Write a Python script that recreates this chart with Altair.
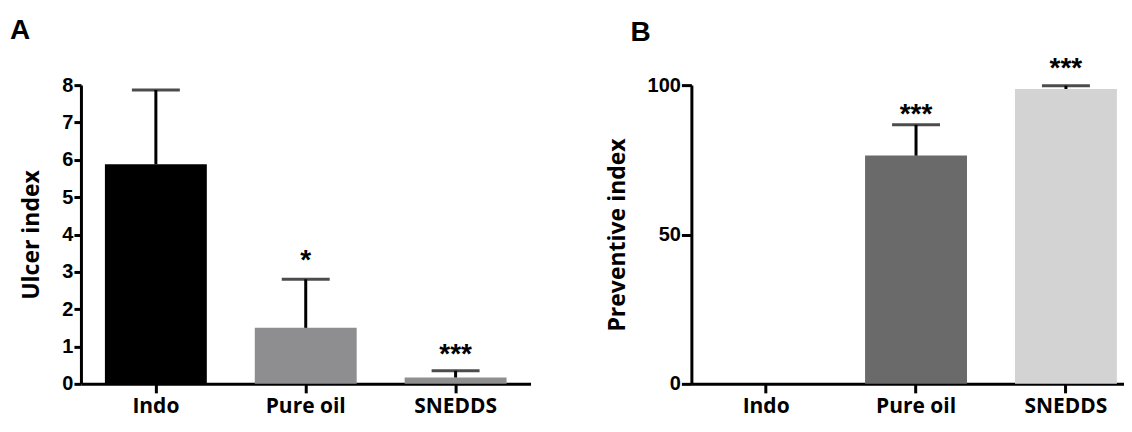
import altair as alt
import pandas as pd

categories = ["Indo", "Pure oil", "SNEDDS"]

# Panel A: ulcer index (mean bar + upper SD whisker)
ulcer_mean = [5.88, 1.50, 0.17]
ulcer_err_top = [7.87, 2.80, 0.35]
ulcer_colors = ["#000000", "#8e8e90", "#8f8f8f"]
ulcer_stars = ["", "*", "***"]
ulcer_star_y = [None, 3.47, 0.95]

# Panel B: preventive index
prev_mean = [0.0, 76.4, 98.7]
prev_err_top = [None, 86.7, 99.8]
prev_colors = ["#ffffff", "#6a6a6a", "#d3d3d3"]
prev_stars = ["", "***", "***"]
prev_star_y = [None, 92.5, 107.6]

ulcer_ticks = [0, 1, 2, 3, 4, 5, 6, 7, 8]
prev_ticks = [0, 50, 100]
panel_labels = ["A", "B"]

TICK_FONT = "Liberation Sans"
TEXT_FONT = "Open Sans"


def panel(means, tops, colors, stars, star_y, y_domain, y_ticks, y_title,
          width, height, x_scale, title_pad, y_tick_size, label):
    df = pd.DataFrame({"cat": categories, "mean": means, "top": tops,
                       "star": stars, "sy": star_y})
    x_axis = alt.Axis(title=None, labelAngle=0, labelFont=TEXT_FONT,
                      labelFontWeight="bold", labelFontSize=21,
                      labelPadding=3, tickSize=9, labelOverlap=False)
    x = alt.X("cat:N", sort=categories, scale=x_scale, axis=x_axis)
    y_scale = alt.Scale(domain=y_domain, nice=False, zero=True)
    y_axis = alt.Axis(values=y_ticks, tickCount=len(y_ticks),
                      title=y_title, titleFont=TEXT_FONT,
                      titleFontWeight="bold", titleFontSize=23,
                      titlePadding=title_pad, labelFont=TICK_FONT,
                      labelFontWeight="bold", labelFontSize=20,
                      labelPadding=1, tickSize=y_tick_size,
                      labelOverlap=False, labelBound=False)
    bars = alt.Chart(df).mark_bar().encode(
        x=x, y=alt.Y("mean:Q", scale=y_scale, axis=y_axis),
        color=alt.Color("cat:N", scale=alt.Scale(domain=categories, range=colors),
                        legend=None))
    whisk = alt.Chart(df).transform_filter("datum.top != null").mark_rule(
        color="black", strokeWidth=3).encode(
        x=x, y=alt.Y("mean:Q", scale=y_scale, axis=y_axis), y2="top:Q")
    cap = alt.Chart(df).transform_filter("datum.top != null").mark_tick(
        color="black", thickness=3, size=48, orient="horizontal").encode(
        x=x, y=alt.Y("top:Q", scale=y_scale, axis=y_axis, title=y_title))
    star = alt.Chart(df).transform_filter("datum.star != ''").mark_text(
        font=TICK_FONT, fontWeight="bold", fontSize=28, baseline="middle",
        dy=7, color="black").encode(
        x=x, y=alt.Y("sy:Q", scale=y_scale, axis=y_axis, title=y_title),
        text="star:N")
    lab = alt.Chart(pd.DataFrame({"t": [label[0]]})).mark_text(
        font=TICK_FONT, fontWeight="bold", fontSize=28, align="left",
        baseline="alphabetic", color="black").encode(
        text="t:N", x=alt.value(label[1]), y=alt.value(label[2]))
    return alt.layer(bars, whisk, cap, star, lab).properties(width=width, height=height)


chart_a = panel(ulcer_mean, ulcer_err_top, ulcer_colors, ulcer_stars, ulcer_star_y,
                [0, 8], ulcer_ticks, "Ulcer index", 450, 299,
                alt.Scale(paddingInner=0.32, paddingOuter=0.16), 18, 7,
                (panel_labels[0], -71, -46))
chart_b = panel(prev_mean, prev_err_top, prev_colors, prev_stars, prev_star_y,
                [0, 100], prev_ticks, "Preventive index", 433, 299,
                alt.Scale(paddingInner=0.32, paddingOuter=0.103, align=0.77), 18, 10,
                (panel_labels[1], -61, -44))

chart = alt.hconcat(chart_a, chart_b, spacing=161, bounds="flush").resolve_scale(
    color="independent", x="independent", y="independent"
).properties(
    padding={"left": 2, "top": 9, "right": 0, "bottom": 4}
).configure_view(stroke=None).configure_axis(
    grid=False, domainColor="black", domainWidth=3, tickColor="black",
    tickWidth=3, labelColor="black", titleColor="black"
)

chart.save("out.html", embed_options={"renderer": "svg", "actions": False})
